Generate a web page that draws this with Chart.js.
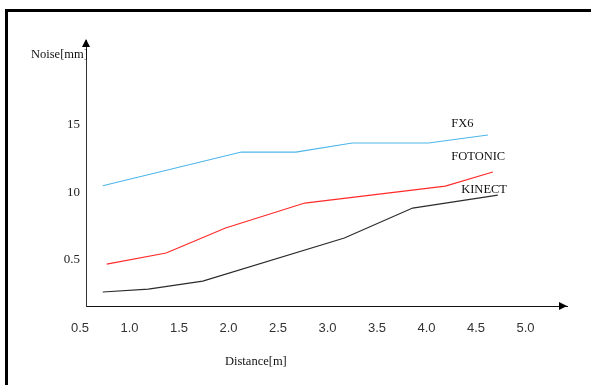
<!DOCTYPE html>
<html>
<head>
<meta charset="utf-8">
<script src="https://cdn.jsdelivr.net/npm/chart.js@4/dist/chart.umd.min.js"></script>
<style>
  html, body { margin: 0; padding: 0; background: #fff; }
  #wrap { position: relative; width: 591px; height: 385px; overflow: hidden; }
  #frame { position: absolute; left: 5px; top: 9px; width: 600px; height: 400px;
           border-top: 3px solid #000; border-left: 3px solid #000; pointer-events: none; }
  canvas { position: absolute; left: 0; top: 0; }
</style>
</head>
<body>
<div id="wrap">
  <canvas id="c" width="591" height="385"></canvas>
  <div id="frame"></div>
</div>
<script>
// ---- data ----
const fx6X      = [0.73, 2.13, 2.68, 3.25, 4.02, 4.62];
const fx6Y      = [10.5, 13.0, 13.0, 13.67, 13.67, 14.26];
const fotonicX  = [0.77, 1.37, 1.97, 2.77, 4.19, 4.67];
const fotonicY  = [4.7, 5.52, 7.37, 9.22, 10.48, 11.52];
const kinectX   = [0.73, 1.19, 1.74, 3.17, 3.86, 4.72];
const kinectY   = [2.63, 2.85, 3.44, 6.63, 8.85, 9.81];
const seriesNames = ['FX6', 'FOTONIC', 'KINECT'];
const xTickValues = [0.5, 1.0, 1.5, 2.0, 2.5, 3.0, 3.5, 4.0, 4.5, 5.0];
const xTickLabels = ['0.5', '1.0', '1.5', '2.0', '2.5', '3.0', '3.5', '4.0', '4.5', '5.0'];
const yTickValues = [5, 10, 15];
const yTickLabels = ['0.5', '10', '15'];
const xTitle = 'Distance[m]';
const yTitle = 'Noise[mm]';

const toPts = (xs, ys) => xs.map((x, i) => ({ x: x, y: ys[i] }));

// label anchors (data units)
const nameAnchors = [
  { x: 4.25, y: 15.07 },
  { x: 4.25, y: 12.63 },
  { x: 4.35, y: 10.19 }
];

const serif = '"Liberation Serif", "Times New Roman", serif';

const decor = {
  id: 'decor',
  afterDraw(chart) {
    const ctx = chart.ctx;
    const a = chart.chartArea;
    const xs = chart.scales.x, ys = chart.scales.y;
    ctx.save();
    // arrows
    ctx.fillStyle = '#000';
    ctx.beginPath();
    ctx.moveTo(a.left, a.top - 1);
    ctx.lineTo(a.left - 4, a.top + 7);
    ctx.lineTo(a.left + 4, a.top + 7);
    ctx.closePath();
    ctx.fill();
    ctx.beginPath();
    ctx.moveTo(a.right, a.bottom);
    ctx.lineTo(a.right - 8, a.bottom - 4);
    ctx.lineTo(a.right - 8, a.bottom + 4);
    ctx.closePath();
    ctx.fill();
    // axis titles
    ctx.fillStyle = '#111';
    ctx.font = '12.5px ' + serif;
    ctx.textBaseline = 'middle';
    ctx.textAlign = 'left';
    ctx.fillText(yTitle, a.left - 55, a.top + 15);
    ctx.fillText(xTitle, a.left + 139, a.bottom + 56);
    // series names
    ctx.font = '12.5px ' + serif;
    seriesNames.forEach((n, i) => {
      ctx.fillText(n, xs.getPixelForValue(nameAnchors[i].x), ys.getPixelForValue(nameAnchors[i].y));
    });
    ctx.restore();
  }
};

new Chart(document.getElementById('c'), {
  type: 'line',
  data: {
    datasets: [
      { label: seriesNames[0], data: toPts(fx6X, fx6Y), borderColor: '#4db6ea', borderWidth: 1.2 },
      { label: seriesNames[1], data: toPts(fotonicX, fotonicY), borderColor: '#ff2a2a', borderWidth: 1.2 },
      { label: seriesNames[2], data: toPts(kinectX, kinectY), borderColor: '#2b2b2b', borderWidth: 1.2 }
    ]
  },
  options: {
    responsive: false,
    animation: false,
    devicePixelRatio: 1,
    parsing: false,
    elements: { point: { radius: 0 }, line: { tension: 0 } },
    layout: { padding: { top: 40, right: 24, left: 0, bottom: 0 } },
    plugins: { legend: { display: false }, tooltip: { enabled: false } },
    scales: {
      x: {
        type: 'linear',
        min: 0.5606,
        max: 5.419,
        afterFit(s) { s.height = 79; },
        afterBuildTicks(s) { s.ticks = xTickValues.map(v => ({ value: v })); },
        grid: { drawOnChartArea: false, drawTicks: false },
        border: { display: true, color: '#111', width: 1 },
        ticks: {
          autoSkip: false,
          maxRotation: 0,
          padding: 15,
          color: '#333',
          font: { family: '"Liberation Sans Narrow", "Arial Narrow", sans-serif', size: 13 },
          callback: (v) => { const i = xTickValues.indexOf(v); return i >= 0 ? xTickLabels[i] : ''; }
        }
      },
      y: {
        type: 'linear',
        min: 1.593,
        max: 21.3,
        afterFit(s) { s.width = 86; },
        afterBuildTicks(s) { s.ticks = yTickValues.map(v => ({ value: v })); },
        grid: { drawOnChartArea: false, drawTicks: false },
        border: { display: true, color: '#333', width: 1 },
        ticks: {
          autoSkip: false,
          padding: 6,
          color: '#222',
          font: { family: serif, size: 13 },
          callback: (v) => { const i = yTickValues.indexOf(v); return i >= 0 ? yTickLabels[i] : ''; }
        }
      }
    }
  },
  plugins: [decor]
});
</script>
</body>
</html>
